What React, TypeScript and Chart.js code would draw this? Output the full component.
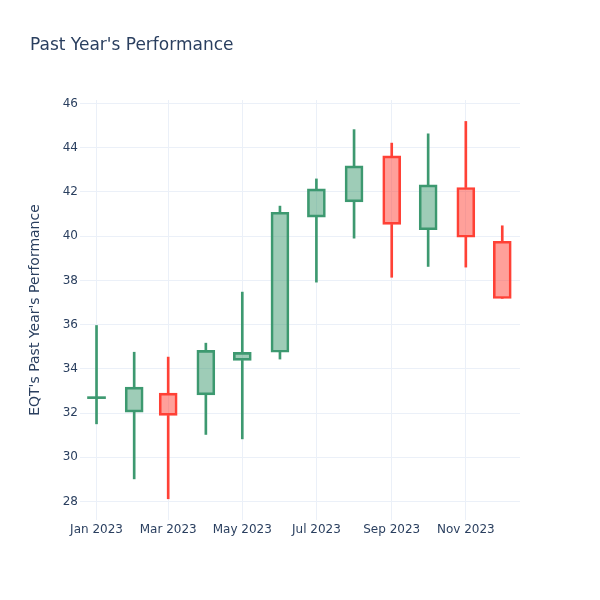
import React, { useEffect, useRef } from "react";
import { Chart, registerables } from "chart.js";

Chart.register(...registerables);

// ---- data ----
const dates = [
  "2023-01-01", "2023-02-01", "2023-03-01", "2023-04-01", "2023-05-01", "2023-06-01",
  "2023-07-01", "2023-08-01", "2023-09-01", "2023-10-01", "2023-11-01", "2023-12-01",
];
const opens = [32.65, 32.04, 32.9, 32.82, 34.38, 34.75, 40.86, 41.55, 43.63, 40.29, 42.2, 39.77];
const highs = [35.96, 34.75, 34.53, 35.16, 37.47, 41.36, 42.59, 44.82, 44.21, 44.63, 45.19, 40.47];
const lows = [31.51, 29.02, 28.12, 31.03, 30.83, 34.44, 37.92, 39.91, 38.14, 38.63, 38.6, 37.18];
const closes = [32.68, 33.17, 31.89, 34.83, 34.74, 41.08, 42.14, 43.18, 40.53, 42.32, 39.95, 37.18];

const xTickDates = ["2023-01-01", "2023-03-01", "2023-05-01", "2023-07-01", "2023-09-01", "2023-11-01"];
const xTickLabels = ["Jan 2023", "Mar 2023", "May 2023", "Jul 2023", "Sep 2023", "Nov 2023"];
const yTicks = [28, 30, 32, 34, 36, 38, 40, 42, 44, 46];

const titleText = "Past Year's Performance";
const yTitleText = "EQT's Past Year's Performance";

// ---- styles ----
const FONT = "'DejaVu Sans', Verdana, sans-serif";
const TEXT = "#2a3f5f";
const GRID = "#EBF0F8";
const INC_LINE = "#3D9970";
const INC_FILL = "rgba(61,153,112,0.5)";
const DEC_LINE = "#FF4136";
const DEC_FILL = "rgba(255,65,54,0.5)";

const ORIGIN = Date.UTC(2023, 0, 1);
const toDay = (s: string) => {
  const [y, m, d] = s.split("-").map(Number);
  return (Date.UTC(y, m - 1, d) - ORIGIN) / 86400000;
};

export default function App() {
  const ref = useRef<HTMLCanvasElement | null>(null);

  useEffect(() => {
    if (!ref.current) return;
    const xs = dates.map(toDay);
    const tickDays = xTickDates.map(toDay);
    const up = opens.map((o, i) => closes[i] > o);
    const flat = opens.map((o, i) => Math.abs(closes[i] - o) < 0.1);
    const lineCol = up.map((u) => (u ? INC_LINE : DEC_LINE));
    const fillCol = up.map((u, i) => (flat[i] ? lineCol[i] : u ? INC_FILL : DEC_FILL));
    const bodyBorder = flat.map((f) => (f ? 0 : 2));

    const titlePlugin = {
      id: "customTitle",
      afterDraw(chart: any) {
        const ctx = chart.ctx;
        ctx.save();
        ctx.font = `17px ${FONT}`;
        ctx.fillStyle = TEXT;
        ctx.textAlign = "left";
        ctx.textBaseline = "alphabetic";
        ctx.fillText(titleText, 30, 49.5);
        ctx.restore();
      },
    };

    const chart = new Chart(ref.current, {
      type: "bar",
      data: {
        datasets: [
          {
            label: "upper wick",
            data: xs.map((x, i) => ({ x, y: [Math.max(opens[i], closes[i]), highs[i]] })),
            backgroundColor: lineCol,
            borderWidth: 0,
            barThickness: 2,
            grouped: false,
          } as any,
          {
            label: "lower wick",
            data: xs.map((x, i) => ({ x, y: [lows[i], Math.min(opens[i], closes[i])] })),
            backgroundColor: lineCol,
            borderWidth: 0,
            barThickness: 2,
            grouped: false,
          } as any,
          {
            label: "body",
            data: xs.map((x, i) => ({ x, y: [Math.min(opens[i], closes[i]), Math.max(opens[i], closes[i])] })),
            backgroundColor: fillCol,
            borderColor: lineCol,
            borderWidth: bodyBorder,
            borderSkipped: false,
            barThickness: 18,
            minBarLength: 2,
            grouped: false,
          } as any,
        ],
      },
      options: {
        animation: false,
        responsive: false,
        devicePixelRatio: 1,
        layout: { padding: { top: 100, right: 80, left: 0, bottom: 0 } },
        plugins: {
          legend: { display: false },
          tooltip: { enabled: false },
          title: { display: false },
        },
        scales: {
          x: {
            type: "linear",
            min: -13.6,
            max: 348.6,
            offset: false,
            grid: { color: GRID, drawTicks: false, lineWidth: 1, offset: false },
            border: { display: false },
            afterBuildTicks: (s: any) => {
              s.ticks = tickDays.map((v) => ({ value: v }));
            },
            afterFit: (s: any) => {
              s.height = 80;
            },
            ticks: {
              autoSkip: false,
              maxRotation: 0,
              minRotation: 0,
              padding: 3,
              color: TEXT,
              font: { family: FONT, size: 12 },
              callback: (v: any) => {
                const idx = tickDays.indexOf(Number(v));
                return idx >= 0 ? xTickLabels[idx] : "";
              },
            },
          },
          y: {
            type: "linear",
            min: 27.16,
            max: 46.16,
            grid: { color: GRID, drawTicks: false, lineWidth: 1 },
            border: { display: false },
            afterBuildTicks: (s: any) => {
              s.ticks = yTicks.map((v) => ({ value: v }));
            },
            afterFit: (s: any) => {
              s.width = 80;
            },
            ticks: {
              padding: 2,
              color: TEXT,
              font: { family: FONT, size: 12 },
              callback: (v: any) => String(v),
            },
            title: {
              display: true,
              text: yTitleText,
              color: TEXT,
              font: { family: FONT, size: 14 },
              padding: { top: 26.6, bottom: 0 },
            },
          },
        },
      } as any,
      plugins: [titlePlugin],
    });
    return () => chart.destroy();
  }, []);

  return (
    <div style={{ position: "absolute", left: 0, top: 0, width: 600, height: 600, background: "#fff" }}>
      <canvas ref={ref} width={600} height={600} style={{ display: "block", width: 600, height: 600 }} />
    </div>
  );
}
